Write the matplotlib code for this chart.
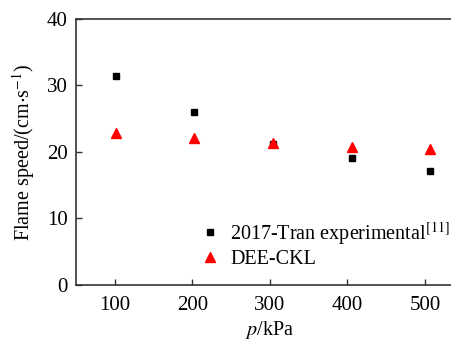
import matplotlib
matplotlib.use("Agg")
import matplotlib.pyplot as plt

# data
pressure = [101.3, 202.6, 303.9, 405.2, 506.6]
tran_exp = [31.4, 26.0, 21.2, 19.05, 17.1]
dee_ckl = [22.9, 22.05, 21.3, 20.8, 20.5]

x_ticks = [100, 200, 300, 400, 500]
y_ticks = [0, 10, 20, 30, 40]

plt.rcParams['font.family'] = 'Liberation Serif'
plt.rcParams['mathtext.fontset'] = 'stix'

fig = plt.figure(figsize=(4.51, 3.42), dpi=100)
ax = fig.add_axes([0.1685, 0.1667, 0.860, 0.778])

ax.plot(pressure, tran_exp, linestyle='none', marker='s', markersize=5,
        color='black', label=r'2017-Tran experimental$^{\mathrm{[11]}}$')
ax.plot(pressure, dee_ckl, linestyle='none', marker='^', markersize=6.5,
        color='red', label='DEE-CKL')

ax.set_xlim(50, 550)
ax.set_ylim(0, 40)
ax.set_xticks(x_ticks)
ax.set_yticks(y_ticks)
ax.tick_params(direction='in', length=4, width=1, labelsize=15, colors='#333333',
               labelcolor='black', pad=6)
ax.tick_params(axis='x', pad=8)
for sp in ax.spines.values():
    sp.set_color('#333333')
    sp.set_linewidth(1.2)

ax.set_xlabel(r'$p$/kPa', fontsize=14.5, labelpad=2.5)
ax.set_ylabel(r'Flame speed/(cm$\cdot$s$^{-1}$)', fontsize=14.5, labelpad=7)

ax.legend(loc='upper left', bbox_to_anchor=(0.314, 0.245), frameon=False,
          fontsize=14.5, handletextpad=0.4, borderaxespad=0, borderpad=0,
          labelspacing=0.15, handlelength=1.2)

fig.savefig('out.png', dpi=100)
